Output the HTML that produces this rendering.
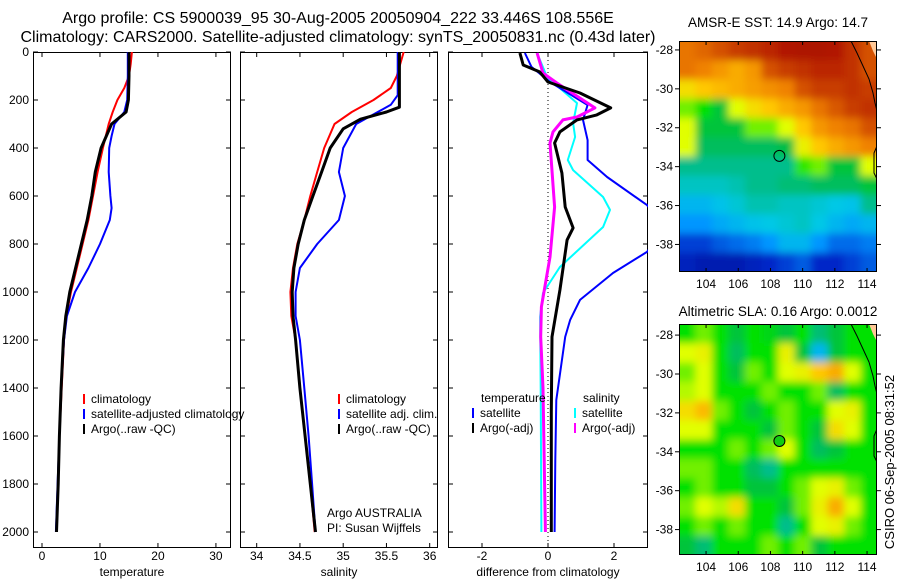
<!DOCTYPE html>
<html><head><meta charset="utf-8"><style>
body{margin:0;background:#fff;width:900px;height:580px;overflow:hidden}
svg{font-family:"Liberation Sans",sans-serif}
</style></head><body>
<svg id="fig" width="900" height="580" viewBox="0 0 900 580" xmlns="http://www.w3.org/2000/svg">
<defs><filter id="blur" x="-10%" y="-10%" width="120%" height="120%"><feGaussianBlur stdDeviation="4"/></filter></defs>
<text x="338" y="23" font-size="16" text-anchor="middle">Argo profile: CS 5900039_95 30-Aug-2005 20050904_222 33.446S 108.556E</text>
<text x="338" y="42" font-size="16" text-anchor="middle">Climatology: CARS2000. Satellite-adjusted climatology: synTS_20050831.nc (0.43d later)</text>
<text x="778" y="27" font-size="13.5" text-anchor="middle">AMSR-E SST: 14.9 Argo: 14.7</text>
<text x="778" y="316" font-size="13.5" text-anchor="middle">Altimetric SLA: 0.16 Argo: 0.0012</text>
<text x="0" y="0" font-size="13" text-anchor="middle" transform="translate(894,462) rotate(-90)">CSIRO 06-Sep-2005 08:31:52</text>
<g id="plots"></g>
</svg>
<script>
// ---- data ----
const depthTicks=[0,200,400,600,800,1000,1200,1400,1600,1800,2000];
const tempTicks=[0,10,20,30];
const salTicks=[34,34.5,35,35.5,36];
const salTickLabels=["34","34.5","35","35.5","36"];
const diffTicks=[-2,0,2];
const diffTickLabels=["-2","0","2"];
// temperature profiles
const tClimDepth=[0,50,100,150,200,250,300,400,500,600,700,800,900,1000,1100,1200,1400,1600,1800,2000];
const tClim=[15.5,15.3,15.0,14.2,13.0,12.2,11.5,10.5,9.6,8.8,8.0,7.0,6.0,5.0,4.2,3.8,3.4,3.0,2.8,2.5];
const tSatDepth=[0,100,200,250,300,350,400,500,600,650,700,800,900,1000,1100,1200,1400,1600,1800,2000];
const tSat=[14.8,14.8,14.7,14.2,12.5,12.0,11.6,11.5,11.8,12.0,11.7,10.0,8.0,5.7,4.3,3.8,3.3,3.0,2.7,2.4];
const tArgoDepth=[0,100,200,250,300,400,500,600,700,800,900,1000,1100,1200,1400,1600,1800,2000];
const tArgo=[15.0,15.0,14.9,14.5,12.0,10.2,9.2,8.6,7.8,6.8,5.8,4.8,4.1,3.7,3.3,3.0,2.8,2.5];
// salinity
const sClimDepth=[0,100,150,200,250,300,400,500,600,700,800,900,1000,1100,1200,1400,1600,1800,2000];
const sClim=[35.7,35.62,35.55,35.35,35.1,34.9,34.78,34.7,34.62,34.55,34.47,34.42,34.39,34.4,34.45,34.5,34.56,34.62,34.67];
const sSatDepth=[0,180,220,260,300,400,500,600,700,800,900,1000,1100,1200,1400,1600,1800,2000];
const sSat=[35.63,35.63,35.55,35.35,35.15,35.0,34.95,35.02,34.95,34.7,34.5,34.45,34.45,34.5,34.55,34.6,34.64,34.68];
const sArgoDepth=[0,230,250,280,320,400,500,600,700,800,900,1000,1100,1200,1400,1600,1800,2000];
const sArgo=[35.65,35.65,35.5,35.2,35.0,34.85,34.75,34.65,34.55,34.48,34.43,34.41,34.42,34.45,34.5,34.56,34.62,34.68];
// differences
const dTSatDepth=[4,62,125,221,283,367,450,521,638,730,833,921,1033,1117,1187,1450,1700,2000];
const dTSat=[-0.7,-0.5,0.06,1.2,1.06,1.2,1.2,1.79,3.0,3.6,3.0,1.97,0.97,0.67,0.52,0.25,0.22,0.2];
const dTArgoDepth=[4,54,83,125,171,233,262,283,333,379,504,646,733,783,992,1187,1500,2000];
const dTArgo=[-0.85,-0.75,-0.25,0,0.97,1.9,1.48,0.88,0.36,0.2,0.42,0.52,0.76,0.58,0.36,0.12,0.1,0.1];
const dSSatDepth=[4,104,213,296,354,450,492,604,658,729,896,1004,1104,1400,2000];
const dSSat=[-0.33,-0.03,0.88,0.76,0.82,0.6,0.76,1.67,1.88,1.67,0.36,-0.15,-0.24,-0.22,-0.2];
const dSArgoDepth=[4,88,129,233,271,283,333,379,646,854,1062,1187,1400,2000];
const dSArgo=[-0.33,-0.15,0.27,1.42,0.88,0.45,0.15,0.06,0.2,0.06,-0.2,-0.22,-0.15,-0.08];
// maps
const lonTicks=[104,106,108,110,112,114];
const latTicks=[-28,-30,-32,-34,-36,-38];
const argoLon=108.556, argoLat=-33.446;
const sstGrid=[
[.8,.82,.85,.88,.9,.92,.95,.96,.96,.95,.9,.85],
[.8,.78,.75,.72,.75,.85,.88,.9,.92,.92,.9,.85],
[.65,.68,.7,.72,.74,.76,.78,.85,.88,.88,.9,.88],
[.55,.5,.45,.6,.65,.68,.72,.75,.8,.84,.88,.9],
[.6,.45,.45,.45,.55,.55,.6,.68,.75,.78,.8,.85],
[.6,.42,.42,.42,.42,.42,.44,.62,.68,.72,.75,.78],
[.38,.38,.38,.38,.38,.38,.38,.52,.55,.45,.45,.6],
[.35,.35,.35,.36,.38,.38,.4,.4,.42,.42,.42,.45],
[.3,.3,.32,.34,.36,.36,.35,.35,.34,.33,.32,.38],
[.25,.25,.28,.3,.32,.33,.34,.35,.33,.3,.28,.3],
[.15,.15,.18,.2,.22,.25,.3,.3,.25,.2,.2,.22],
[.1,.08,.08,.08,.1,.12,.15,.18,.12,.12,.15,.18]];
const slaGrid=[
[.5,.55,.5,.45,.5,.48,.45,.5,.4,.45,.5,.5],
[.6,.62,.5,.42,.5,.5,.62,.45,.3,.45,.5,.5],
[.55,.6,.5,.45,.55,.5,.6,.62,.68,.72,.6,.5],
[.58,.6,.5,.5,.5,.55,.5,.5,.55,.42,.5,.5],
[.65,.7,.55,.5,.45,.5,.55,.5,.5,.6,.62,.5],
[.6,.6,.5,.5,.5,.45,.55,.5,.45,.65,.6,.5],
[.5,.5,.5,.55,.5,.55,.6,.5,.42,.45,.5,.5],
[.55,.55,.5,.5,.42,.38,.5,.5,.5,.5,.5,.5],
[.5,.55,.5,.5,.45,.45,.5,.55,.6,.62,.55,.5],
[.55,.6,.58,.65,.5,.5,.45,.55,.62,.72,.6,.5],
[.5,.55,.5,.55,.5,.5,.38,.5,.6,.62,.55,.5],
[.45,.4,.5,.5,.5,.55,.5,.55,.45,.5,.5,.5]];

const NS="http://www.w3.org/2000/svg";
const root=document.getElementById('plots');
function mk(tag,attrs,parent){const e=document.createElementNS(NS,tag);for(const k in attrs)e.setAttribute(k,attrs[k]);(parent||root).appendChild(e);return e;}
const yD=d=>52+0.24*d;

function panel(name,x0,x1,xmin,xmax,ticks,labels,xlabel,showY){
  const sx=v=>x0+(v-xmin)/(xmax-xmin)*(x1-x0);
  const g=mk('g',{});
  
  
  const cp=mk('clipPath',{id:'cp-'+name},g);mk('rect',{x:x0,y:52,width:x1-x0,height:496},cp);
  const box=mk('rect',{x:x0+0.5,y:52.5,width:x1-x0-1,height:495,fill:'none',stroke:'#000','stroke-width':1},g);
  
  
  ticks.forEach((t,i)=>{const x=sx(t);
    mk('line',{x1:x,x2:x,y1:52,y2:57,stroke:'#000'},g);mk('line',{x1:x,x2:x,y1:548,y2:543,stroke:'#000'},g);
    const tl=mk('text',{x:x,y:560,'font-size':12,'text-anchor':'middle'},g);tl.textContent=labels[i];
    
    
  });
  depthTicks.forEach(d=>{const y=yD(d);
    mk('line',{x1:x0,x2:x0+5,y1:y,y2:y,stroke:'#000'},g);mk('line',{x1:x1,x2:x1-5,y1:y,y2:y,stroke:'#000'},g);
    if(showY){const tl=mk('text',{x:x0-4,y:y+4,'font-size':12,'text-anchor':'end'},g);tl.textContent=d;
      
      }
  });
  const xl=mk('text',{x:(x0+x1)/2,y:576,'font-size':12,'text-anchor':'middle'},g);xl.textContent=xlabel;
  
  
  const lg=mk('g',{'clip-path':'url(#cp-'+name+')'},g);
  return {sx,lg,g};
}
function series(p,depths,vals,color,w,name){
  const pts=depths.map((d,i)=>p.sx(vals[i]).toFixed(1)+','+yD(d).toFixed(1)).join(' ');
  const l=mk('polyline',{points:pts,fill:'none',stroke:color,'stroke-width':w,'stroke-linejoin':'round'},p.lg);
  
  
}
function legend(parent,x,y,color,text,name){
  const m=mk('line',{x1:x,x2:x,y1:y-9,y2:y+1,stroke:color,'stroke-width':2},parent);
  
  
  const t=mk('text',{x:x+7,y:y,'font-size':12},parent);t.textContent=text;
  
  
}

const p1=panel('temperature-panel',33,231,-1.55,32.6,tempTicks,tempTicks.map(String),'temperature',true);
series(p1,tClimDepth,tClim,'#f00',2,'temp-climatology-line');
series(p1,tSatDepth,tSat,'#00f',2,'temp-satellite-line');
series(p1,tArgoDepth,tArgo,'#000',3,'temp-argo-line');
legend(root,84,403,'#f00','climatology','legend-climatology');
legend(root,84,418,'#00f','satellite-adjusted climatology','legend-satellite-adjusted');
legend(root,84,433,'#000','Argo(..raw -QC)','legend-argo-raw');

const p2=panel('salinity-panel',240,438,33.807,36.096,salTicks,salTickLabels,'salinity',false);
series(p2,sClimDepth,sClim,'#f00',2,'sal-climatology-line');
series(p2,sSatDepth,sSat,'#00f',2,'sal-satellite-line');
series(p2,sArgoDepth,sArgo,'#000',3,'sal-argo-line');
legend(root,339,403,'#f00','climatology','legend-sal-climatology');
legend(root,339,418,'#00f','satellite adj. clim.','legend-sal-satellite');
legend(root,339,433,'#000','Argo(..raw -QC)','legend-sal-argo');
let t=mk('text',{x:327,y:517,'font-size':12});t.textContent='Argo AUSTRALIA';


t=mk('text',{x:327,y:532,'font-size':12});t.textContent='PI: Susan Wijffels';



const p3=panel('difference-panel',448,648,-3.03,3.03,diffTicks,diffTickLabels,'difference from climatology',false);
const zl=mk('line',{x1:p3.sx(0),x2:p3.sx(0),y1:52,y2:548,stroke:'#000','stroke-dasharray':'1,3'},p3.lg);


series(p3,dSSatDepth,dSSat,'#0ff',2,'diff-sal-satellite-line');
series(p3,dTSatDepth,dTSat,'#00f',2,'diff-temp-satellite-line');
series(p3,dSArgoDepth,dSArgo,'#f0f',3,'diff-sal-argo-line');
series(p3,dTArgoDepth,dTArgo,'#000',3,'diff-temp-argo-line');
t=mk('text',{x:481,y:402,'font-size':12});t.textContent='temperature';


t=mk('text',{x:583,y:402,'font-size':12});t.textContent='salinity';


legend(root,473,417,'#00f','satellite','legend-diff-temp-satellite');
legend(root,473,432,'#000','Argo(-adj)','legend-diff-temp-argo');
legend(root,575,417,'#0ff','satellite','legend-diff-sal-satellite');
legend(root,575,432,'#f0f','Argo(-adj)','legend-diff-sal-argo');

// colormap
const stops=[[0,[0,0,128]],[.12,[0,40,200]],[.25,[0,150,255]],[.33,[0,200,230]],[.38,[0,190,140]],[.44,[0,190,70]],[.5,[0,225,0]],[.6,[225,255,0]],[.68,[255,200,0]],[.78,[240,130,0]],[.88,[200,60,0]],[1,[160,0,0]]];
function cmap(v){for(let i=1;i<stops.length;i++){if(v<=stops[i][0]){const a=stops[i-1],b=stops[i],f=(v-a[0])/(b[0]-a[0]);return 'rgb('+a[1].map((c,k)=>Math.round(c+(b[1][k]-c)*f)).join(',')+')';}}return 'rgb(160,0,0)';}

function map(name,y0,grid,fillMarker,latTop){
  const x0=679,x1=877,y1=y0+231;
  const lx=lon=>x0+(lon-102.32)*16.1;
  const la=lat=>y0+(latTop-lat)*19.45;
  const g=mk('g',{});
  
  
  const cp=mk('clipPath',{id:'cp-'+name},g);mk('rect',{x:x0,y:y0,width:x1-x0,height:y1-y0},cp);
  const cg=mk('g',{'clip-path':'url(#cp-'+name+')'},g);
  const bg=mk('g',{filter:'url(#blur)'},cg);
  const nr=grid.length,nc=grid[0].length,cw=(x1-x0)/nc,ch=(y1-y0)/nr,pad=20;
  grid.forEach((row,r)=>row.forEach((v,c)=>{
    let x=x0+c*cw,y=y0+r*ch,w=cw+0.6,h=ch+0.6;
    if(c===0){x-=pad;w+=pad;} if(c===nc-1){w+=pad;}
    if(r===0){y-=pad;h+=pad;} if(r===nr-1){h+=pad;}
    const cell=mk('rect',{x:x,y:y,width:w,height:h,fill:cmap(v)},bg);
    
    
  }));
  const land=mk('path',{d:`M${x1-8},${y0} L${x1-4},${y0+10} L${x1},${y0+18} L${x1},${y0} Z`,fill:'#ffc896',stroke:'none'},cg);
  
  
  const coast=mk('polyline',{points:`${x1-26},${y0} ${x1-20},${y0+12} ${x1-14},${y0+25} ${x1-8},${y0+38} ${x1-4},${y0+52} ${x1-2},${y0+62} ${x1},${y0+70}`,fill:'none',stroke:'#000','stroke-width':1},cg);
  
  
  mk('polyline',{points:`${x1},${y0+105} ${x1-3},${y0+112} ${x1-3},${y0+132} ${x1},${y0+138}`,fill:'none',stroke:'#000'},cg);
  const mkr=mk('circle',{cx:lx(argoLon),cy:la(argoLat),r:5.5,fill:fillMarker,stroke:'#000','stroke-width':1},g);
  
  
  mk('rect',{x:x0+0.5,y:y0+0.5,width:x1-x0-1,height:y1-y0-1,fill:'none',stroke:'#000'},g);
  lonTicks.forEach(l=>{const x=lx(l);
    mk('line',{x1:x,x2:x,y1:y0,y2:y0+4,stroke:'#000'},g);mk('line',{x1:x,x2:x,y1:y1,y2:y1-4,stroke:'#000'},g);
    const tl=mk('text',{x:x,y:y1+16,'font-size':12,'text-anchor':'middle'},g);tl.textContent=l;
    
    });
  latTicks.forEach(l=>{const y=la(l);
    mk('line',{x1:x0,x2:x0-4,y1:y,y2:y,stroke:'#000'},g);mk('line',{x1:x1,x2:x1+4,y1:y,y2:y,stroke:'#000'},g);
    const tl=mk('text',{x:x0-6,y:y+4,'font-size':12,'text-anchor':'end'},g);tl.textContent=l;
    
    });
}
map('sst-map',41,sstGrid,'none',-27.54);
map('sla-map',324,slaGrid,'#1c1',-27.43);
</script>
</body></html>
